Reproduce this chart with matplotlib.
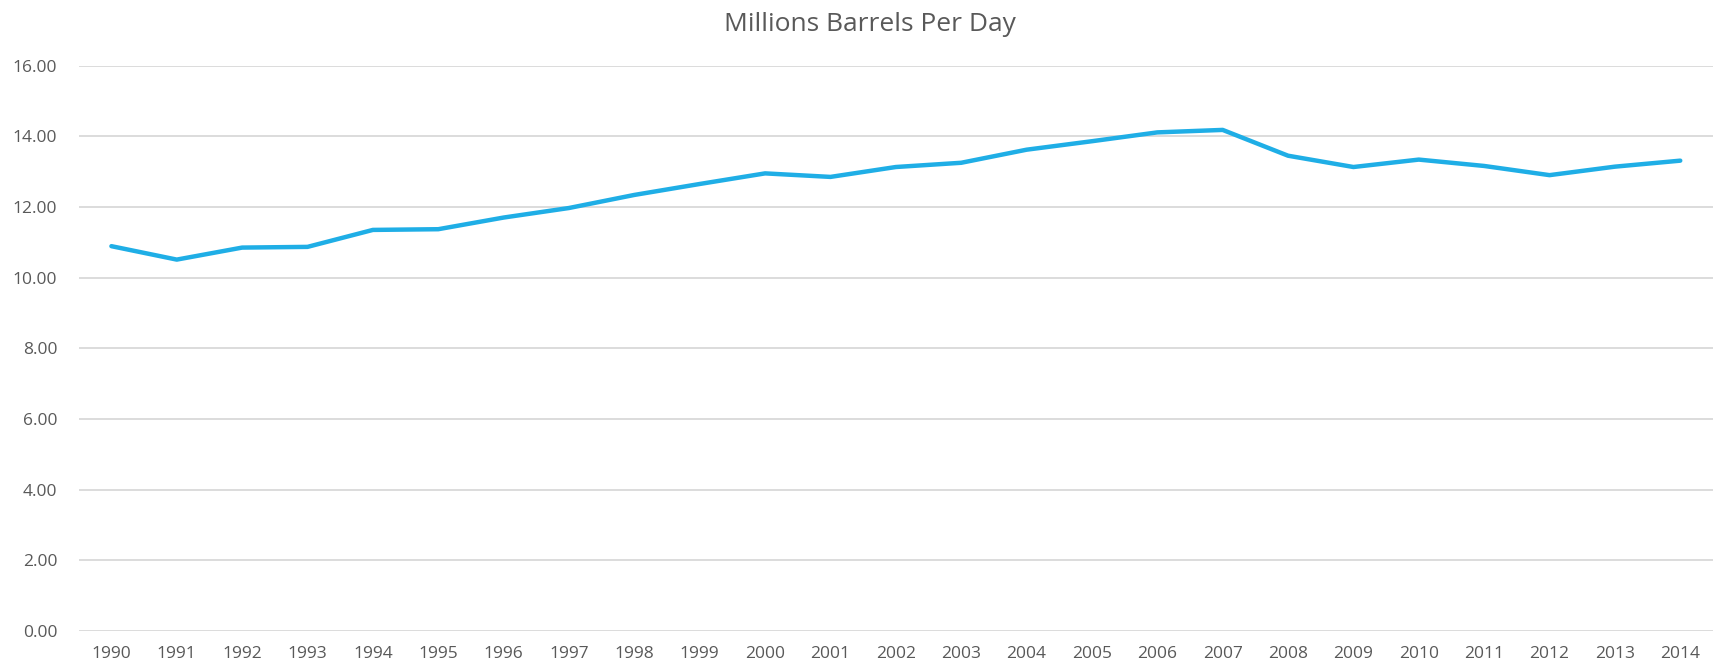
import matplotlib
matplotlib.use("Agg")
import matplotlib.pyplot as plt

years = [str(y) for y in range(1990, 2015)]
values = [10.89, 10.51, 10.85, 10.87, 11.35, 11.37, 11.70, 11.97, 12.34, 12.65,
          12.95, 12.85, 13.13, 13.25, 13.62, 13.86, 14.11, 14.18, 13.45, 13.13,
          13.34, 13.16, 12.90, 13.14, 13.31]
y_ticks = [0, 2, 4, 6, 8, 10, 12, 14, 16]
title = "Millions Barrels Per Day"

plt.rcParams['font.family'] = ['Open Sans', 'DejaVu Sans']
fig = plt.figure(figsize=(17.15, 6.68), dpi=100)
ax = fig.add_axes([0.0459, 0.0554, 0.9529, 0.8464])

x = list(range(len(years)))
ax.plot(x, values, color='#1FAEE6', lw=3.2, solid_joinstyle='round', solid_capstyle='round')

ax.set_xlim(-0.5, len(years) - 0.5)
ax.set_ylim(0, 16)
ax.set_yticks(y_ticks)
ax.set_yticklabels([f"{v:.2f}" for v in y_ticks])
ax.set_xticks(x)
ax.set_xticklabels(years)
ax.grid(axis='y', color='#D9D9D9', lw=1.3)
ax.set_axisbelow(True)
for s in ax.spines.values():
    s.set_visible(False)
ax.tick_params(axis='both', length=0, labelsize=12.5, colors='#595959')
ax.tick_params(axis='y', pad=15.5)
ax.tick_params(axis='x', pad=11)
fig.text(0.507, 0.963, title, ha='center', va='center', fontsize=19, color='#595959')

fig.savefig("out.png", dpi=100)
